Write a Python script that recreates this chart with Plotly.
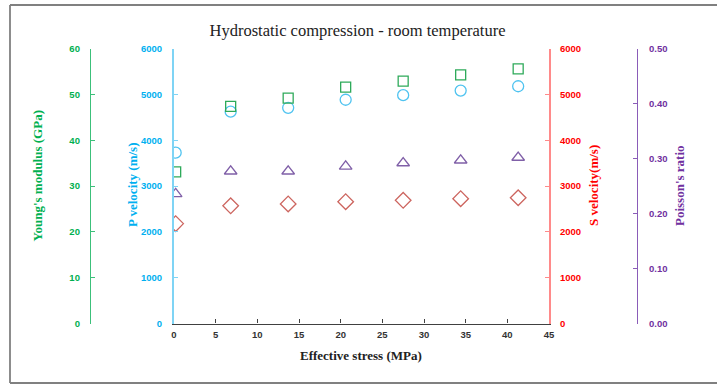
import plotly.graph_objects as go

# ---- data ----
stress_mpa = [0.2, 6.8, 13.7, 20.6, 27.5, 34.4, 41.3]
youngs_gpa = [33.1, 47.4, 49.2, 51.6, 52.9, 54.3, 55.6]
p_velocity = [3730, 4625, 4710, 4885, 4985, 5085, 5180]
s_velocity = [2180, 2570, 2610, 2660, 2690, 2725, 2745]
poisson = [0.236, 0.277, 0.277, 0.286, 0.292, 0.297, 0.302]

x_ticks = list(range(0, 50, 5))

W, H = 717, 386
def px(x):
    return x / W
def py(y):
    return (H - y) / H

x0, x1 = 174, 549
ytop, ybot = 48.7, 323.5

GREEN_T, GREEN_L, GREEN_M = "#00B050", "#3CC07A", "#2EAA5A"
BLUE_T, BLUE_L, BLUE_M = "#00B0F0", "#7FD4F5", "#4FC3F0"
RED_T, RED_L, RED_M = "#FF0000", "#FF8A8A", "#CD6660"
PUR_T, PUR_L, PUR_M = "#7030A0", "#8A5CB8", "#8060A8"

tickfont = lambda c: dict(family="Liberation Sans", size=9.5, color=c, weight="bold")

fig = go.Figure()
fig.add_trace(go.Scatter(x=stress_mpa, y=youngs_gpa, yaxis="y2", mode="markers",
                         marker=dict(symbol="square-open", size=10, color=GREEN_M, line=dict(width=1.3)),
                         name="Young's modulus"))
fig.add_trace(go.Scatter(x=stress_mpa, y=p_velocity, yaxis="y", mode="markers",
                         marker=dict(symbol="circle-open", size=11, color=BLUE_M, line=dict(width=1.3)),
                         name="P velocity"))
fig.add_trace(go.Scatter(x=stress_mpa, y=s_velocity, yaxis="y3", mode="markers",
                         marker=dict(symbol="diamond-open", size=12, color=RED_M, line=dict(width=1.3)),
                         name="S velocity"))
fig.add_trace(go.Scatter(x=stress_mpa, y=poisson, yaxis="y4", mode="markers",
                         marker=dict(symbol="triangle-up-open", size=11, color=PUR_M, line=dict(width=1.3)),
                         name="Poisson's ratio"))

common = dict(showgrid=False, zeroline=False, showline=True, ticks="inside", ticklen=4, automargin=False)

fig.update_layout(
    width=W, height=H, autosize=False,
    margin=dict(l=0, r=0, t=0, b=0, pad=0),
    paper_bgcolor="white", plot_bgcolor="white",
    showlegend=False,
    title=dict(text="Hydrostatic compression - room temperature",
               x=px(357.5), y=py(30), xanchor="center", yanchor="middle", automargin=False,
               font=dict(family="Liberation Serif", size=16.5, color="#222222")),
    xaxis=dict(domain=[px(x0), px(x1)], range=[0, 45], tickvals=x_ticks,
               linecolor="#404040", linewidth=1.3, tickcolor="#404040",
               tickfont=tickfont("#333333"), ticklabelstandoff=2, **common),
    yaxis=dict(domain=[py(ybot), py(ytop)], range=[0, 6000], dtick=1000,
               linecolor=BLUE_L, linewidth=2, tickcolor=BLUE_L,
               tickfont=tickfont(BLUE_T), ticklabelstandoff=8, **common),
    yaxis2=dict(overlaying="y", anchor="free", position=px(90), side="left",
                range=[0, 60], dtick=10,
                linecolor=GREEN_L, linewidth=1.3, tickcolor=GREEN_L,
                tickfont=tickfont(GREEN_T), ticklabelstandoff=8, **common),
    yaxis3=dict(overlaying="y", anchor="x", side="right",
                range=[0, 6000], dtick=1000,
                linecolor=RED_L, linewidth=2, tickcolor=RED_L,
                tickfont=tickfont(RED_T), ticklabelstandoff=7, **common),
    yaxis4=dict(overlaying="y", anchor="free", position=px(637), side="right",
                range=[0, 0.5], dtick=0.1, tickformat=".2f",
                linecolor=PUR_L, linewidth=1.3, tickcolor=PUR_L,
                tickfont=tickfont(PUR_T), ticklabelstandoff=9, **common),
)

title_font = lambda c: dict(family="Liberation Serif", size=13, color=c, weight="bold")
ann = [
    dict(text="Young's modulus (GPa)", x=px(37), y=py(176.5), font=title_font(GREEN_T)),
    dict(text="P velocity (m/s)", x=px(132), y=py(185), font=title_font(BLUE_T)),
    dict(text="S velocity(m/s)", x=px(593), y=py(186), font=title_font(RED_T)),
    dict(text="Poisson's ratio", x=px(679), y=py(186), font=title_font(PUR_T)),
]
for a in ann:
    fig.add_annotation(xref="paper", yref="paper", showarrow=False, textangle=-90,
                       xanchor="center", yanchor="middle", **a)
fig.add_annotation(xref="paper", yref="paper", showarrow=False,
                   text="Effective stress (MPa)", x=px(361.5), y=py(355),
                   xanchor="center", yanchor="middle", font=title_font("#222222"))

# outer frame (top, left, bottom; right edge lies beyond the window)
border = dict(color="#808080", width=1.8)
fig.add_shape(type="line", xref="paper", yref="paper", x0=px(10), x1=1, y0=py(5), y1=py(5), line=border)
fig.add_shape(type="line", xref="paper", yref="paper", x0=px(10), x1=px(10), y0=py(5), y1=py(383), line=border)
fig.add_shape(type="line", xref="paper", yref="paper", x0=px(10), x1=1, y0=py(383), y1=py(383), line=border)

fig.write_html("out.html")
